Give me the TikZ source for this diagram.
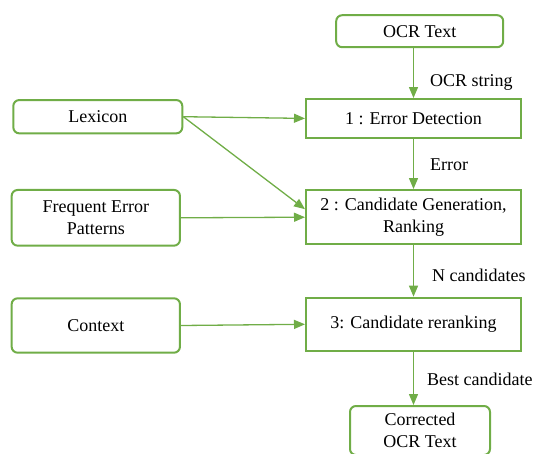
\documentclass[tikz,border=0pt]{standalone}
\usepackage{fontspec}
\setmainfont{Liberation Serif}
\usetikzlibrary{arrows.meta}
\definecolor{grn}{RGB}{112,173,71}
\begin{document}
\begin{tikzpicture}[x=1pt,y=-1pt,
  every node/.style={font=\fontsize{18}{21.5}\selectfont},
  rbox/.style={draw=grn,line width=2pt,rounded corners=6pt,fill=white,inner sep=0pt,align=center},
  sbox/.style={draw=grn,line width=2pt,fill=white,inner sep=0pt,align=center},
  conn/.style={draw=grn,line width=1.3pt,-{Triangle[length=11pt,width=9pt]}},
  lbl/.style={anchor=west,inner sep=0pt}]
\useasboundingbox (0,0) rectangle (536,453);
\node[rbox,minimum width=167pt,minimum height=32pt] (ocr) at (419.7,31.2) {OCR Text};
\node[sbox,minimum width=215pt,minimum height=38.7pt] (ed) at (413.5,118.4) {1 : Error Detection};
\node[rbox,minimum width=169pt,minimum height=33.3pt] (lex) at (97.8,116.7) {Lexicon};
\node[sbox,minimum width=215pt,minimum height=54.3pt] (cg) at (413.5,217.2) {2 : Candidate Generation,\\Ranking};
\node[rbox,minimum width=168.3pt,minimum height=55.7pt] (fep) at (95.8,217.8) {Frequent Error\\Patterns};
\node[rbox,minimum width=168.3pt,minimum height=54.4pt] (ctx) at (95.8,325.5) {Context};
\node[sbox,minimum width=215pt,minimum height=53.3pt] (cr) at (413.5,324.3) {3: Candidate reranking};
\node[rbox,minimum width=140pt,minimum height=49pt] (cor) at (420,430.5) {Corrected\\OCR Text};

\draw[conn] (ed.north |- ocr.south) -- (ed.north);
\draw[conn] (ed.south) -- (cg.north);
\draw[conn] (cg.south) -- (cr.north);
\draw[conn] (cr.south) -- (cr.south |- cor.north);
\draw[conn] (lex.east) -- (ed.west);
\draw[conn] (lex.east) -- ([yshift=8pt]cg.west);
\draw[conn] (fep.east) -- (cg.west);
\draw[conn] (ctx.east) -- (cr.west);

\node[lbl] (l1) at (430,82.7) {OCR string};
\node[lbl] (l2) at (430,165) {Error};
\node[lbl] (l3) at (432,275) {N candidates};
\node[lbl] (l4) at (427,379) {Best candidate};
\end{tikzpicture}
\end{document}
